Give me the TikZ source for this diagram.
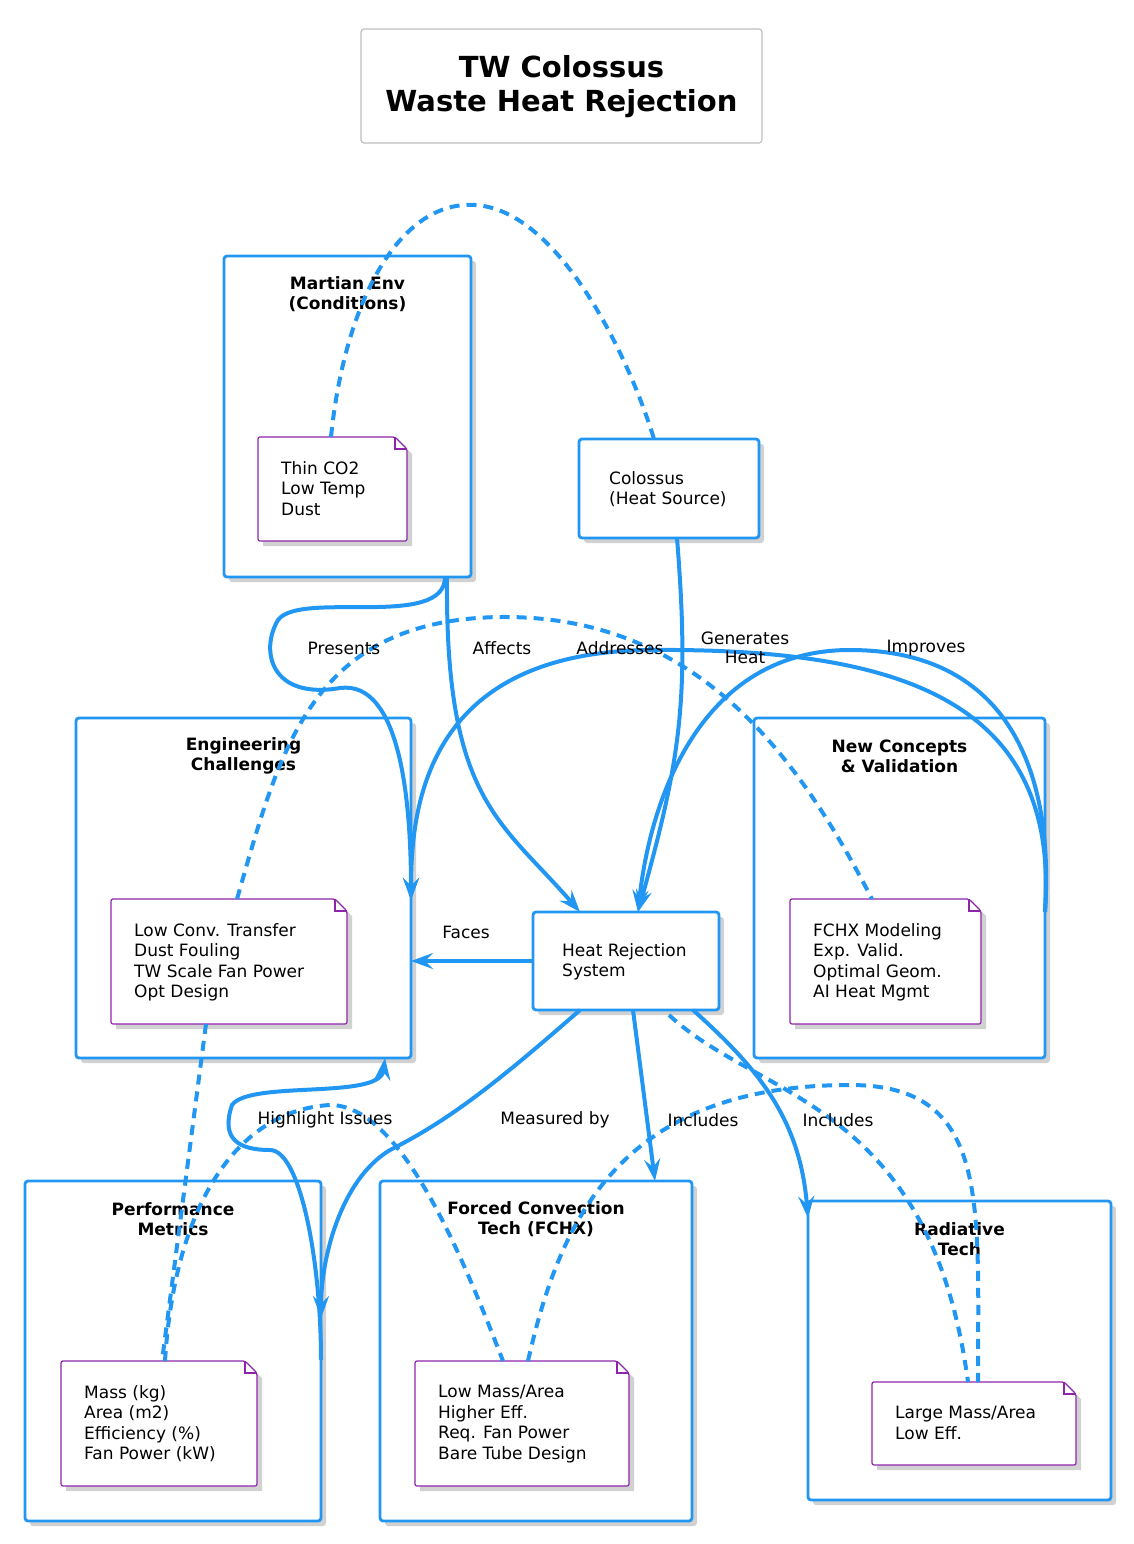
\documentclass[tikz,border=0pt]{standalone}
\usepackage{fontspec}
\setmainfont{DejaVu Sans}
\usetikzlibrary{arrows.meta}
\definecolor{bl}{HTML}{2196F3}
\definecolor{pu}{HTML}{8E24AA}
\tikzset{
 pkg/.style={draw=bl,line width=2.8pt,rounded corners=3pt,fill=white},
 shd/.style={fill=black!18,rounded corners=3pt},
 ptitle/.style={font=\fontsize{17}{20}\selectfont\bfseries,align=center},
 txt/.style={font=\fontsize{17}{20.5}\selectfont,align=left,inner sep=0pt},
 lbl/.style={font=\fontsize{17}{19}\selectfont,align=center,inner sep=1pt},
 ed/.style={draw=bl,line width=4pt,-{Stealth[length=22pt,width=16pt,inset=8pt]}},
 dd/.style={draw=bl,line width=4pt,dash pattern=on 10pt off 7pt},
}
\newcommand\mynote[5]{%
 \fill[black!18] (#1+5,#2+5) -- (#3-7,#2+5) -- (#3+5,#2+17) -- (#3+5,#4+5) -- (#1+5,#4+5) -- cycle;
 \draw[pu,fill=white,line width=1.2pt,rounded corners=2pt] (#1,#2) -- (#3-12,#2) -- (#3,#2+12) -- (#3,#4) -- (#1,#4) -- cycle;
 \draw[pu,line width=1.2pt] (#3-12,#2) -- (#3-12,#2+12) -- (#3,#2+12);
 \node[txt,anchor=north west] at (#1+23,#2+24) {#5};}
\newcommand\mypkg[6]{%
 \fill[shd] (#1+5,#2+5) rectangle (#3+5,#4+5);
 \draw[pkg] (#1,#2) rectangle (#3,#4);
 \node[ptitle] (#5) at ({(#1+#3)/2},#2+38) {#6};}
\begin{document}
\begin{tikzpicture}[x=1pt,y=-1pt]
\useasboundingbox (0,0) rectangle (1134,1544);
% title
\draw[black!25,line width=1.2pt,rounded corners=3pt,fill=white] (361,29) rectangle (762,143);
\node[font=\fontsize{29}{34}\selectfont\bfseries,align=center] (title) at (561.5,87) {TW Colossus\\Waste Heat Rejection};
% packages
\mypkg{224}{256}{471}{577}{mt}{Martian Env\\(Conditions)}
\mypkg{76}{718}{411}{1058}{et}{Engineering\\Challenges}
\mypkg{754}{718}{1045}{1058}{nt}{New Concepts\\\& Validation}
\mypkg{25}{1181}{321}{1521}{pt}{Performance\\Metrics}
\mypkg{380}{1181}{692}{1521}{ft}{Forced Convection\\Tech (FCHX)}
\mypkg{808}{1201}{1111}{1500}{rt}{Radiative\\Tech}
% notes
\mynote{258}{437}{407}{541}{Thin CO2\\Low Temp\\Dust}
\mynote{111}{899}{347}{1024}{Low Conv. Transfer\\Dust Fouling\\TW Scale Fan Power\\Opt Design}
\mynote{790}{899}{981}{1024}{FCHX Modeling\\Exp. Valid.\\Optimal Geom.\\AI Heat Mgmt}
\mynote{61}{1361}{257}{1486}{Mass (kg)\\Area (m2)\\Efficiency (\%)\\Fan Power (kW)}
\mynote{415}{1361}{629}{1486}{Low Mass/Area\\Higher Eff.\\Req. Fan Power\\Bare Tube Design}
\mynote{872}{1382}{1076}{1465}{Large Mass/Area\\Low Eff.}
% rect nodes
\fill[shd] (584,444) rectangle (764,543);
\draw[pkg] (579,439) rectangle (759,538);
\node[txt,anchor=north west] (col) at (609,471) {Colossus\\(Heat Source)};
\fill[shd] (538,917) rectangle (724,1015);
\draw[pkg] (533,912) rectangle (719,1010);
\node[txt,anchor=north west] (hrs) at (562,943) {Heat Rejection\\System};
% coordinates
\coordinate (n1) at (331,437); \coordinate (c1) at (654,439);
\coordinate (n2) at (237,899); \coordinate (n3) at (872,899);
\coordinate (n2b) at (206,1024); \coordinate (n4) at (162,1361);
\coordinate (n5) at (503,1361); \coordinate (n5b) at (528,1361);
\coordinate (n6) at (968,1382); \coordinate (n6b) at (978,1382);
% dashed
\draw[dd] (n1) .. controls (345,300) and (400,200) .. (475,205) .. controls (560,210) and (630,360) .. (c1);
\draw[dd] (n2) .. controls (280,750) and (310,620) .. (500,617) .. controls (700,615) and (800,760) .. (n3);
\draw[dd] (n2b) -- (n4);
\draw[dd] (165,1361) .. controls (175,1200) and (240,1110) .. (330,1105) .. controls (400,1105) and (460,1250) .. (n5);
\draw[dd] (n5b) .. controls (560,1220) and (620,1085) .. (850,1085) .. controls (990,1085) and (978,1200) .. (n6b);
\draw[dd] (669,1015) .. controls (760,1100) and (930,1100) .. (n6);
% solid edges
\draw[ed] (445,577) .. controls (445,630) and (300,590) .. (278,620) .. controls (260,650) and (270,700) .. (340,688) .. controls (400,680) and (411,800) .. (411,900);
\draw[ed] (447,577) .. controls (445,800) and (500,820) .. (580,912);
\draw[ed] (677,538) .. controls (690,700) and (680,760) .. (638,912);
\draw[ed] (1045,912) .. controls (1060,700) and (900,648) .. (650,650) .. controls (430,652) and (411,800) .. (411,900);
\draw[ed] (1045,912) .. controls (1055,760) and (1000,650) .. (850,650) .. controls (700,650) and (650,800) .. (638,912);
\draw[ed] (533,961) -- (411,961);
\draw[ed] (580,1010) .. controls (500,1080) and (450,1120) .. (390,1150) .. controls (340,1180) and (321,1260) .. (321,1318);
\draw[ed] (633,1010) -- (655,1181);
\draw[ed] (693,1010) .. controls (760,1070) and (800,1120) .. (808,1218);
\draw[ed] (321,1360) .. controls (321,1260) and (300,1150) .. (270,1150) .. controls (240,1150) and (220,1140) .. (232,1105) .. controls (250,1080) and (380,1100) .. (385,1058);
% labels
\node[lbl] (l1) at (344,648) {Presents};
\node[lbl] (l2) at (502,648) {Affects};
\node[lbl] (l3) at (620,648) {Addresses};
\node[lbl] (l4) at (745,648) {Generates\\Heat};
\node[lbl] (l5) at (926,648) {Improves};
\node[lbl] (l6) at (466,932) {Faces};
\node[lbl] (l7) at (325,1120) {Highlight Issues};
\node[lbl] (l8) at (555,1120) {Measured by};
\node[lbl] (l9) at (703,1120) {Includes};
\node[lbl] (l10) at (838,1120) {Includes};
\end{tikzpicture}
\end{document}
